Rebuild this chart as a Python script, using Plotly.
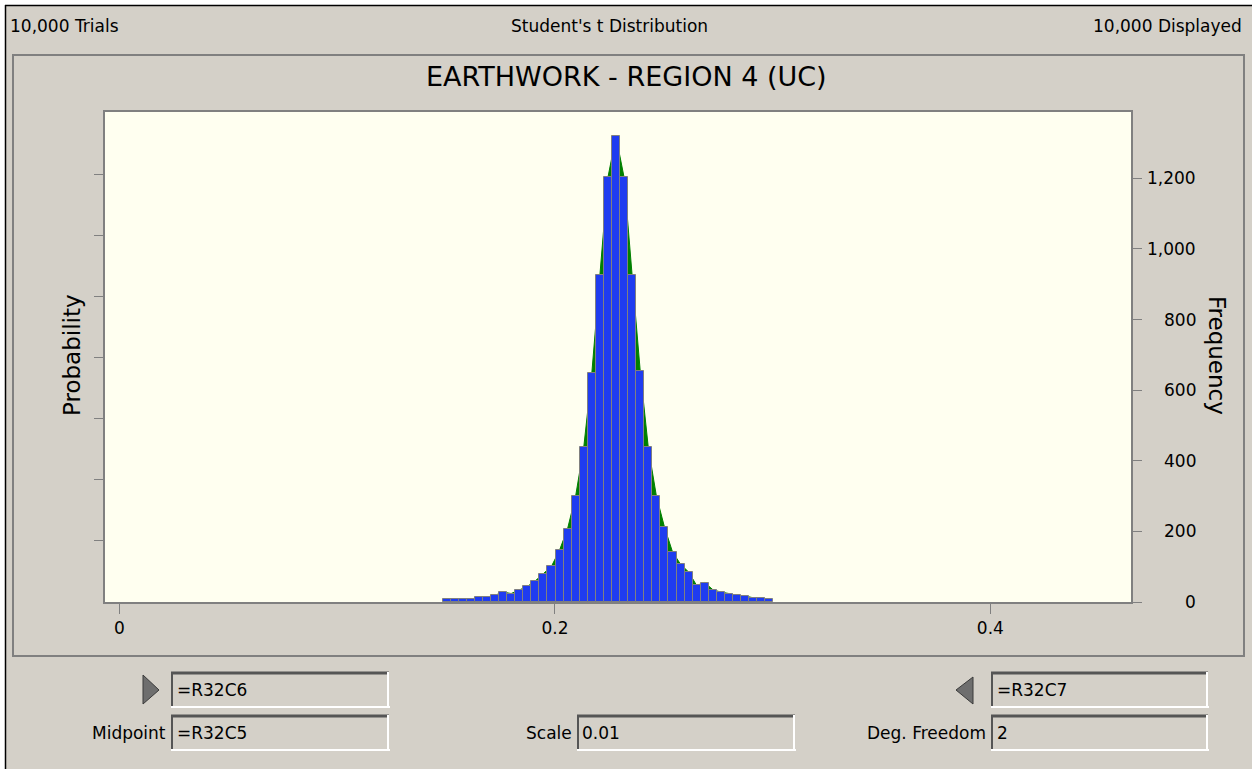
import numpy as np
import plotly.graph_objects as go

# ---------------- data ----------------
counts = [8, 8, 8, 8, 14, 14, 19, 28, 24, 35, 44, 60, 80, 101, 147, 208, 301, 438,
          648, 925, 1203, 1319, 1203, 925, 655, 438, 301, 213, 142, 107, 85, 47, 55,
          35, 28, 24, 19, 17, 12, 12, 8]
bin_min = 0.1484
bin_max = 0.3003
x_tick_vals = [0, 0.2, 0.4]
x_tick_text = ["0", "0.2", "0.4"]
freq_tick_vals = [0, 200, 400, 600, 800, 1000, 1200]
freq_tick_text = ["0", "200", "400", "600", "800", "1,000", "1,200"]
prob_tick_vals = [0.02, 0.04, 0.06, 0.08, 0.10, 0.12, 0.14]

header_left = "10,000 Trials"
header_mid = "Student's t Distribution"
header_right = "10,000 Displayed"
chart_title = "EARTHWORK - REGION 4 (UC)"
field_texts = ["=R32C6", "=R32C7", "=R32C5", "0.01", "2"]
field_labels = ["Midpoint", "Scale", "Deg. Freedom"]

# ---------------- derived ----------------
edges = np.linspace(bin_min, bin_max, len(counts) + 1)
centers = (edges[:-1] + edges[1:]) / 2
bin_width = edges[1] - edges[0]

# ---------------- geometry helpers ----------------
FW, FH = 1252, 769
L, R, T, B = 105, 1131, 112, 602
def px(x):
    return (x - L) / (R - L)
def py(y):
    return (B - y) / (B - T)

BG = "#D4D0C8"
FONT = "DejaVu Sans"
FREQ_RANGE = [0, 1388]

fig = go.Figure()

# fitted curve (area) on the base axis, drawn beneath the bars
fig.add_trace(go.Scatter(
    x=centers, y=counts, mode="lines", fill="tozeroy", yaxis="y",
    line=dict(color="#008000", width=1), fillcolor="#008000",
    hoverinfo="skip", showlegend=False))

# probability axis anchor trace
fig.add_trace(go.Scatter(
    x=[0.1], y=[0.0], yaxis="y2", mode="markers",
    marker=dict(opacity=0), hoverinfo="skip", showlegend=False))

# histogram bars on an overlaying axis so they sit on top of the area
fig.add_trace(go.Bar(
    x=centers, y=counts, width=bin_width, yaxis="y3",
    marker=dict(color="#1F3CF0", line=dict(color="#808080", width=1)),
    showlegend=False))

shapes = []
def line(x0, y0, x1, y1, color, width):
    shapes.append(dict(type="line", xref="paper", yref="paper",
                       x0=px(x0), y0=py(y0), x1=px(x1), y1=py(y1),
                       line=dict(color=color, width=width), layer="above"))

# outer window edge
shapes.append(dict(type="rect", xref="paper", yref="paper",
                   x0=px(0), y0=py(0), x1=px(FW), y1=py(5),
                   fillcolor="white", line=dict(width=0), layer="below"))
shapes.append(dict(type="rect", xref="paper", yref="paper",
                   x0=px(0), y0=py(0), x1=px(5), y1=py(FH),
                   fillcolor="white", line=dict(width=0), layer="below"))
line(5, 5.5, FW, 5.5, "#000000", 1.5)
line(5.5, 5, 5.5, FH, "#000000", 1.5)

# chart panel frame
shapes.append(dict(type="rect", xref="paper", yref="paper",
                   x0=px(13), y0=py(55), x1=px(1244), y1=py(656),
                   line=dict(color="#808080", width=2), layer="below"))

# text fields
def field(x0, y0, x1, y1):
    line(x0, y0 + 1, x1, y0 + 1, "#555555", 3)
    line(x0 + 1, y0, x0 + 1, y1, "#555555", 2)
    line(x0, y1 - 1, x1 + 1, y1 - 1, "#FFFFFF", 2)
    line(x1 - 1, y0, x1 - 1, y1, "#FFFFFF", 2)

boxes = [(171, 672, 389, 708), (991, 672, 1208, 708),
         (171, 715, 389, 751), (577, 715, 795, 751), (991, 715, 1208, 751)]
for b in boxes:
    field(*b)

# triangle arrows
def tri(pts):
    path = "M " + " L ".join(f"{px(a)},{py(b)}" for a, b in pts) + " Z"
    shapes.append(dict(type="path", xref="paper", yref="paper", path=path,
                       fillcolor="#6E6E6E", line=dict(color="#3A3A3A", width=1),
                       layer="above"))
tri([(143, 675), (143, 704), (159, 690)])
tri([(973, 677), (973, 704), (956, 690)])

ann = []
def text(x, y, s, size=17, xanchor="center", angle=0):
    ann.append(dict(xref="paper", yref="paper", x=px(x), y=py(y), text=s,
                    showarrow=False, xanchor=xanchor, yanchor="middle",
                    textangle=angle, font=dict(family=FONT, size=size, color="#000000")))

text(8, 26, header_left, xanchor="left")
text(609, 26, header_mid)
text(1244, 26, header_right, xanchor="right")
text(626, 76, chart_title, size=27)
text(72, 355, "Probability", size=23, angle=-90)
text(1217, 355, "Frequency", size=23, angle=90)

for v, s in zip(freq_tick_vals, freq_tick_text):
    ann.append(dict(xref="paper", yref="y", x=px(1198), y=v, text=s,
                    showarrow=False, xanchor="right", yanchor="middle",
                    font=dict(family=FONT, size=17, color="#000000")))

box_text_x = [175, 995, 175, 580, 995]
box_text_y = [690, 690, 733, 733, 733]
for s, xx, yy in zip(field_texts, box_text_x, box_text_y):
    text(xx, yy, s, size=17, xanchor="left")
for s, xx in zip(field_labels, [168, 574, 988]):
    text(xx, 733, s, size=17, xanchor="right")

fig.update_layout(
    width=FW, height=FH,
    margin=dict(l=L, r=FW - R, t=T, b=FH - B, pad=0),
    paper_bgcolor=BG, plot_bgcolor="#FFFFF0",
    barmode="overlay", bargap=0,
    shapes=shapes, annotations=ann,
    xaxis=dict(range=[-0.00666, 0.4646], tickvals=x_tick_vals, ticktext=x_tick_text,
               ticks="outside", ticklen=10, tickcolor="#808080", tickwidth=1,
               showline=True, mirror=True, linecolor="#808080", linewidth=1.5,
               showgrid=False, zeroline=False,
               tickfont=dict(family=FONT, size=17, color="#000000")),
    yaxis=dict(range=FREQ_RANGE, side="right", tickvals=freq_tick_vals,
               showticklabels=False, ticks="outside", ticklen=9,
               tickcolor="#808080", tickwidth=1,
               showline=True, mirror=True, linecolor="#808080", linewidth=1.5,
               showgrid=False, zeroline=False),
    yaxis2=dict(range=[0, 0.1606], overlaying="y", side="left",
                tickvals=prob_tick_vals, showticklabels=False,
                ticks="outside", ticklen=10, tickcolor="#808080", tickwidth=1,
                showline=False, showgrid=False, zeroline=False),
    yaxis3=dict(range=FREQ_RANGE, overlaying="y", side="right", visible=False,
                showgrid=False, zeroline=False),
)

fig.write_html("out.html", config={"displayModeBar": False},
               post_script="document.body.style.margin='0';")
